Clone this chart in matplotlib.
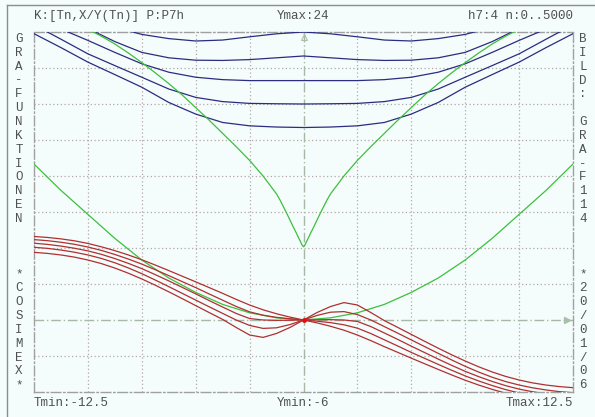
import numpy as np
import matplotlib
matplotlib.use("Agg")
import matplotlib.pyplot as plt
from matplotlib.lines import Line2D

# header / footer texts
head_left = "K:[Tn,X/Y(Tn)] P:P7h"
head_mid = "Ymax:24"
head_right = "h7:4 n:0..5000"
foot_left = "Tmin:-12.5"
foot_mid = "Ymin:-6"
foot_right = "Tmax:12.5"
side_left = "GRA-FUNKTIONEN   *COSIMEX*"
side_right = "BILD: GRA-F114   *20/01/06"

# blue family
t_blue = [-12.5, -11.25, -10, -8.75, -7.5, -6.25, -5, -3.75, -2.5, -1.25, 0,
          1.25, 2.5, 3.75, 5, 6.25, 7.5, 8.75, 10, 11.25, 12.5]
blue1 = [28.0, 26.5, 25.3, 24.4, 23.8, 23.45, 23.25, 23.33, 23.6, 23.85, 24.0,
         23.85, 23.6, 23.33, 23.25, 23.45, 23.8, 24.4, 25.3, 26.5, 28.0]
blue2 = [27.0, 25.6, 24.3, 23.2, 22.3, 21.85, 21.65, 21.63, 21.7, 21.85, 22.0,
         21.85, 21.7, 21.63, 21.65, 21.85, 22.3, 23.2, 24.3, 25.6, 27.0]
blue3 = [25.4, 24.25, 23.3, 22.3, 21.35, 20.65, 20.23, 20.03, 19.95, 19.95, 19.95,
         19.95, 19.95, 20.03, 20.23, 20.65, 21.35, 22.3, 23.3, 24.25, 25.4]
blue4 = [24.6, 23.4, 22.18, 21.2, 20.23, 19.25, 18.55, 18.2, 18.05, 18.02, 18.0,
         18.02, 18.05, 18.2, 18.55, 19.25, 20.23, 21.2, 22.18, 23.4, 24.6]
blue5 = [23.86, 22.7, 21.49, 20.45, 19.4, 18.13, 17.16, 16.46, 16.18, 16.08, 16.04,
         16.08, 16.18, 16.46, 17.16, 18.13, 19.4, 20.45, 21.49, 22.7, 23.86]

# green curves
t_green1 = [-10.5, -9.8, -9.375, -8.75, -8.125, -7.5, -6.875, -6.25, -5.625, -5,
            -4.375, -3.75, -3.125, -2.5, -1.875, -1.25, -1.09, -0.78, -0.5, -0.32,
            -0.16, -0.08, 0, 0.08, 0.16, 0.32, 0.5, 0.78, 1.09, 1.25, 1.875, 2.5,
            3.125, 3.75, 4.375, 5, 5.625, 6.25, 6.875, 7.5, 8.125, 8.75, 9.375,
            9.8, 10.5]
green1 = [24.9, 24.05, 23.65, 23.0, 22.25, 21.45, 20.6, 19.7, 18.75, 17.7,
          16.65, 15.55, 14.45, 13.3, 12.0, 10.5, 10.0, 8.9, 7.85, 7.2,
          6.6, 6.3, 6.1, 6.3, 6.6, 7.2, 7.85, 8.9, 10.0, 10.5, 12.0, 13.3,
          14.45, 15.55, 16.65, 17.7, 18.75, 19.7, 20.6, 21.45, 22.25, 23.0, 23.65,
          24.05, 24.9]
t_green2 = [-12.5, -11.25, -10, -8.75, -7.5, -6.25, -5, -3.75, -2.5, -1.25, 0,
            1.25, 2.5, 3.75, 5, 6.25, 7.5, 8.75, 10, 11.25, 12.5]
green2 = [13.0, 10.8, 8.8, 6.8, 5.0, 3.5, 2.3, 1.3, 0.6, 0.18, 0.0,
          0.18, 0.6, 1.3, 2.3, 3.5, 5.0, 6.8, 8.8, 10.8, 13.0]

# red family
t_red = [-12.5, -11.875, -11.25, -10.625, -10, -9.375, -8.75, -8.125, -7.5, -6.875,
         -6.25, -5.625, -5, -4.375, -3.75, -3.125, -2.5, -1.875, -1.25, -0.625,
         0, 0.625, 1.25, 1.875, 2.5, 3.125, 3.75, 4.375, 5, 5.625, 6.25, 6.875,
         7.5, 8.125, 8.75, 9.375, 10, 10.625, 11.25, 11.875, 12.5]
red1 = [6.96, 6.88, 6.76, 6.6, 6.38, 6.1, 5.78, 5.42, 5.02, 4.58,
        4.12, 3.65, 3.18, 2.7, 2.22, 1.72, 1.25, 0.85, 0.52, 0.24,
        0, -0.24, -0.52, -0.85, -1.25, -1.72, -2.22, -2.7, -3.18, -3.65, -4.12, -4.58,
        -5.02, -5.42, -5.78, -6.1, -6.38, -6.6, -6.76, -6.88, -6.96]
red2 = [6.7, 6.61, 6.48, 6.31, 6.08, 5.8, 5.46, 5.08, 4.66, 4.19,
        3.7, 3.2, 2.7, 2.17, 1.65, 1.13, 0.68, 0.4, 0.22, 0.1,
        0, -0.1, -0.22, -0.4, -0.68, -1.13, -1.65, -2.17, -2.7, -3.2, -3.7, -4.19,
        -4.66, -5.08, -5.46, -5.8, -6.08, -6.31, -6.48, -6.61, -6.7]
red3 = [6.4, 6.3, 6.16, 5.98, 5.76, 5.47, 5.12, 4.72, 4.28, 3.78,
        3.26, 2.72, 2.18, 1.62, 1.08, 0.55, 0.12, 0.0, -0.03, -0.02,
        0, 0.02, 0.03, 0.0, -0.12, -0.55, -1.08, -1.62, -2.18, -2.72, -3.26, -3.78,
        -4.28, -4.72, -5.12, -5.47, -5.76, -5.98, -6.16, -6.3, -6.4]
red4 = [6.06, 5.97, 5.83, 5.65, 5.42, 5.13, 4.77, 4.34, 3.86, 3.33,
        2.78, 2.22, 1.66, 1.1, 0.55, 0.0, -0.45, -0.7, -0.65, -0.38,
        0, 0.38, 0.65, 0.7, 0.45, 0.0, -0.55, -1.1, -1.66, -2.22, -2.78, -3.33,
        -3.86, -4.34, -4.77, -5.13, -5.42, -5.65, -5.83, -5.97, -6.06]
red5 = [5.64, 5.55, 5.42, 5.24, 5.0, 4.7, 4.33, 3.9, 3.42, 2.9,
        2.35, 1.78, 1.2, 0.62, 0.05, -0.62, -1.25, -1.45, -1.12, -0.62,
        0, 0.62, 1.12, 1.45, 1.25, 0.62, -0.05, -0.62, -1.2, -1.78, -2.35, -2.9,
        -3.42, -3.9, -4.33, -4.7, -5.0, -5.24, -5.42, -5.55, -5.64]

bg = "#f5fcfc"
mono = "Liberation Mono"
txt_col = "#505050"

fig = plt.figure(figsize=(5.95, 4.17), dpi=100, facecolor=bg)
ax = fig.add_axes([34 / 595, 1 - 392 / 417, 539 / 595, 360 / 417])
ax.set_facecolor(bg)
ax.set_xlim(-12.5, 12.5)
ax.set_ylim(-6, 24)

# dotted grid
for gx in np.arange(-10, 12.5, 2.5):
    if gx != 0:
        ax.axvline(gx, color="#b4a8a8", lw=0.9, ls=(0, (1, 2)), zorder=1)
for gy in np.arange(-3, 24, 3):
    if gy != 0:
        ax.axhline(gy, color="#b4a8a8", lw=0.9, ls=(0, (1, 2)), zorder=1)

# axes through origin
ax.axvline(0, color="#a8b8a8", lw=1.0, ls=(0, (7, 2, 1, 2)), zorder=1)
ax.axhline(0, color="#a8b8a8", lw=1.0, ls=(0, (7, 2, 1, 2)), zorder=1)
ax.plot([0], [23.6], marker="^", ms=4, color="#a8c0a8", mfc="none", mew=0.8, clip_on=False)
ax.plot([12.2], [0], marker=">", ms=4, color="#a8c0a8", clip_on=False)

for sp in ax.spines.values():
    sp.set_color("#a0a0a0")
    sp.set_linewidth(1.0)
    sp.set_linestyle((0, (7, 2, 1, 2)))
ax.set_xticks([])
ax.set_yticks([])

for yb in [blue1, blue2, blue3, blue4, blue5]:
    ax.plot(t_blue, yb, color="#2c2c80", lw=0.9, zorder=3)
ax.plot(t_green1, green1, color="#3cc03c", lw=0.9, zorder=3)
ax.plot(t_green2, green2, color="#3cc03c", lw=0.9, zorder=3)
for yr in [red1, red2, red3, red4, red5]:
    ax.plot(t_red, yr, color="#b03030", lw=0.9, zorder=4)
ax.plot([0], [0], marker="o", ms=2.5, color="#e01010", zorder=5)

# texts
fs = 9.0
fig.text(34 / 595, 1 - 16 / 417, head_left, family=mono, fontsize=fs, color=txt_col, va="center", ha="left")
fig.text(303.5 / 595, 1 - 16 / 417, head_mid, family=mono, fontsize=fs, color=txt_col, va="center", ha="center")
fig.text(573 / 595, 1 - 16 / 417, head_right, family=mono, fontsize=fs, color=txt_col, va="center", ha="right")
fig.text(34 / 595, 1 - 403 / 417, foot_left, family=mono, fontsize=fs, color=txt_col, va="center", ha="left")
fig.text(303.5 / 595, 1 - 403 / 417, foot_mid, family=mono, fontsize=fs, color=txt_col, va="center", ha="center")
fig.text(573 / 595, 1 - 403 / 417, foot_right, family=mono, fontsize=fs, color=txt_col, va="center", ha="right")
for k, ch in enumerate(side_left):
    if ch != " ":
        fig.text(19 / 595, 1 - (39 + 13.85 * k) / 417, ch, family=mono, fontsize=fs,
                 color=txt_col, va="center", ha="center")
for k, ch in enumerate(side_right):
    if ch != " ":
        fig.text(583 / 595, 1 - (39 + 13.85 * k) / 417, ch, family=mono, fontsize=fs,
                 color=txt_col, va="center", ha="center")

# window frame (left and top edges)
fig.add_artist(Line2D([7 / 595, 7 / 595], [0, 1 - 5 / 417], transform=fig.transFigure, color="#8c8c8c", lw=1.0))
fig.add_artist(Line2D([7 / 595, 1], [1 - 5 / 417, 1 - 5 / 417], transform=fig.transFigure, color="#8c8c8c", lw=1.0))

fig.savefig("out.png", dpi=100, facecolor=bg)
